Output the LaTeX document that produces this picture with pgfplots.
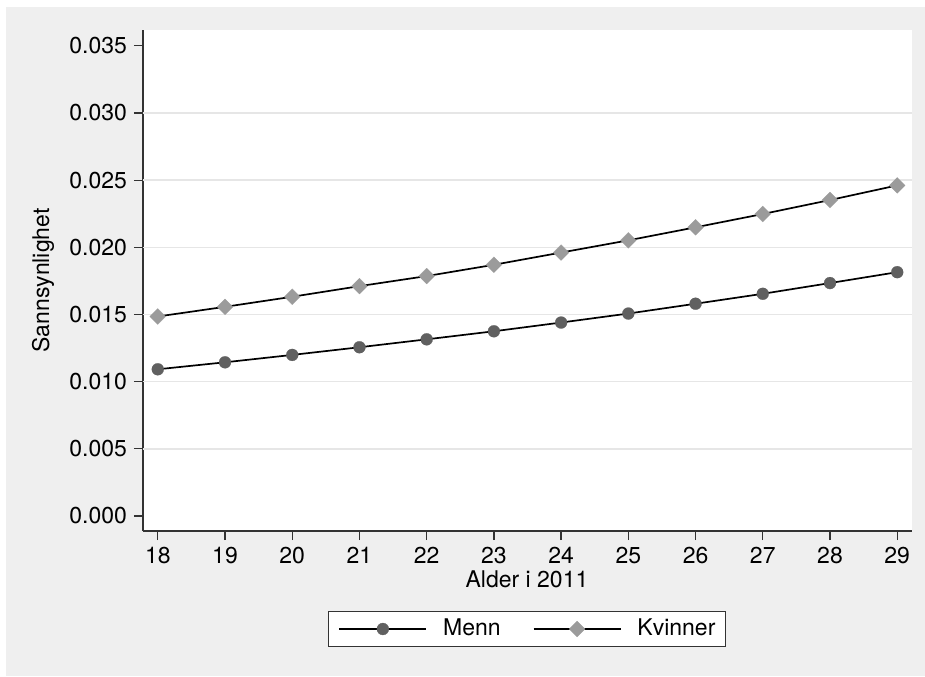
\documentclass[border=0pt]{standalone}
\usepackage{fontspec}
\setmainfont{TeX Gyre Heros}
\usepackage{pgfplots}
\pgfplotsset{compat=1.18}
\definecolor{bgc}{HTML}{EFEFEF}
\definecolor{gridc}{HTML}{E6E6E6}
\definecolor{menn}{HTML}{606060}
\definecolor{kvin}{HTML}{9B9B9B}
\definecolor{axc}{HTML}{333333}
\begin{document}
\begin{tikzpicture}
\path[use as bounding box] (0pt,0pt) rectangle (462.5pt,338pt);
\fill[white] (0pt,0pt) rectangle (462.5pt,338pt);
\fill[bgc] (3pt,0pt) rectangle (462.5pt,334.5pt);
\begin{axis}[
  at={(71.5pt,72.5pt)}, anchor=south west,
  scale only axis, width=384.5pt, height=250.5pt,
  xmin=17.78, xmax=29.22, ymin=-0.00112, ymax=0.03618,
  axis lines*=left,
  axis line style={axc, line width=0.65pt},
  axis background/.style={fill=white},
  tick align=outside, major tick length=4.5pt,
  tick style={axc, line width=0.65pt},
  xtick={18,19,...,29},
  ytick={0,0.005,0.010,0.015,0.020,0.025,0.030,0.035},
  xmajorgrids=false,
  scaled y ticks=false,
  yticklabel style={/pgf/number format/.cd, fixed, fixed zerofill, precision=3, assume math mode=true},
  xticklabel style={/pgf/number format/assume math mode=true},
  extra y ticks={0.005,0.010,0.015,0.020,0.025,0.030},
  extra y tick labels={},
  extra y tick style={ymajorgrids=true, xmajorgrids=false, major tick length=0pt,
    major grid style={color=gridc, line width=0.8pt}},
  ticklabel style={font=\fontsize{11.5}{13}\selectfont},
  xlabel={Alder i 2011},
  ylabel={Sannsynlighet},
  label style={font=\fontsize{11.5}{13}\selectfont},
  xlabel style={at={(axis description cs:0.4993,-0.0958)}, anchor=center, inner sep=0pt},
  ylabel style={at={(axis description cs:-0.130,0.5)}, anchor=center, inner sep=0pt},
  legend columns=2,
  legend style={at={(axis description cs:0.4993,-0.1956)}, anchor=center,
    draw=axc, line width=0.6pt, fill=white,
    font=\fontsize{11.5}{13}\selectfont,
    inner xsep=5pt, inner ysep=4pt,
    nodes={inner sep=0pt},
    /tikz/every odd column/.append style={column sep=8pt},
    /tikz/every even column/.append style={column sep=16pt}},
  legend image code/.code={
    \draw[mark repeat=2,mark phase=2,#1] plot coordinates {(0pt,0pt) (21.75pt,0pt) (43.5pt,0pt)};
  },
]
\addplot[black, line width=0.85pt, mark=*, mark size=3pt,
  mark options={fill=menn, draw=menn, line width=0.1pt}] coordinates {
  (18,0.01092) (19,0.01144) (20,0.01199) (21,0.01256) (22,0.01315) (23,0.01375)
  (24,0.01440) (25,0.01507) (26,0.01580) (27,0.01654) (28,0.01734) (29,0.01815)
};
\addlegendentry{Menn}
\addplot[black, line width=0.85pt, mark=square*, mark size=2.8pt,
  mark options={rotate=45, fill=kvin, draw=kvin, line width=0.1pt}] coordinates {
  (18,0.01485) (19,0.01557) (20,0.01632) (21,0.01711) (22,0.01786) (23,0.01870)
  (24,0.01961) (25,0.02052) (26,0.02149) (27,0.02248) (28,0.02352) (29,0.02461)
};
\addlegendentry{Kvinner}
\end{axis}
\end{tikzpicture}
\end{document}
